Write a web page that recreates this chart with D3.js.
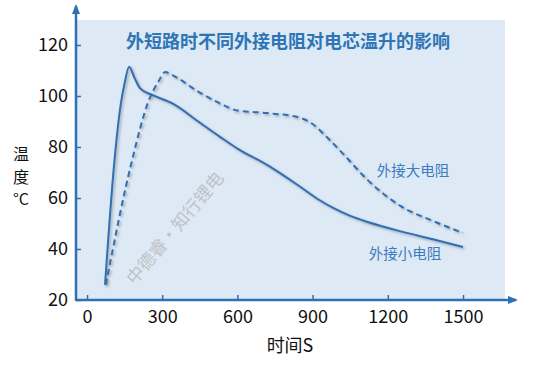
<!DOCTYPE html>
<html>
<head>
<meta charset="utf-8">
<script src="https://cdn.jsdelivr.net/npm/d3@7.9.0/dist/d3.min.js"></script>
<style>
  body { margin: 0; background: #fff; }
  svg { display: block; font-family: "Noto Sans CJK SC", "Noto Sans", sans-serif; }
</style>
</head>
<body>
<svg id="chart"></svg>
<script>
// time (s) / temperature (°C)
const smallTime = [72, 108, 135, 150, 168, 190, 212, 260, 344, 452, 532, 600, 720, 852, 920, 984, 1050, 1120, 1252, 1380, 1500];
const smallTemp = [26, 73, 97, 105, 111.5, 107, 103, 100.4, 96.9, 89.4, 83.9, 79.4, 72.9, 64.3, 59.6, 56, 53, 50.6, 46.9, 43.8, 40.8];
const bigTime = [75, 180, 244, 284, 312, 340, 452, 532, 600, 720, 852, 900, 950, 1020, 1120, 1252, 1380, 1500];
const bigTemp = [26, 74.9, 97.6, 105.5, 109.4, 108.2, 101.2, 97, 94.3, 93.3, 91.4, 89, 84.5, 77.5, 67, 56.8, 51, 46.3];
const xTicks = [0, 300, 600, 900, 1200, 1500];
const yTicks = [20, 40, 60, 80, 100, 120];

const W = 554, H = 368;
const blue = "#2f6fb6";

const svg = d3.select("#chart").attr("width", W).attr("height", H);

const x = d3.scaleLinear().domain([0, 1500]).range([87, 463]);
const y = d3.scaleLinear().domain([20, 120]).range([300, 45]);

const defs = svg.append("defs");
const f = defs.append("filter").attr("id", "shadow")
  .attr("x", "-10%").attr("y", "-10%").attr("width", "130%").attr("height", "130%");
f.append("feDropShadow").attr("dx", 1.5).attr("dy", 1.5).attr("stdDeviation", 1)
  .attr("flood-color", "#666").attr("flood-opacity", 0.5);

defs.append("marker").attr("id", "arrow")
  .attr("viewBox", "0 0 10 10").attr("refX", 8).attr("refY", 5)
  .attr("markerWidth", 4).attr("markerHeight", 4).attr("orient", "auto")
  .append("path").attr("d", "M0,1 L10,5 L0,9 Z").attr("fill", blue);

// plot background
svg.append("rect")
  .attr("x", 76).attr("y", 20)
  .attr("width", 429).attr("height", 280)
  .attr("fill", "#dde9f5");

// watermark
svg.append("text")
  .attr("transform", "translate(176,229) rotate(-50)")
  .attr("text-anchor", "middle")
  .attr("dominant-baseline", "middle")
  .attr("font-size", 17.5)
  .attr("fill", "#bfc3c8")
  .text("中德睿•知行锂电");

// axes
const xAxis = svg.append("g")
  .attr("transform", `translate(0,${y(20)})`)
  .call(d3.axisBottom(x).tickValues(xTicks).tickFormat(d3.format("d")).tickSize(-5).tickPadding(10));
const yAxis = svg.append("g")
  .attr("transform", "translate(76,0)")
  .call(d3.axisLeft(y).tickValues(yTicks).tickFormat(d3.format("d")).tickSize(-5).tickPadding(8));

[xAxis, yAxis].forEach(g => {
  g.select(".domain").remove();
  g.selectAll(".tick line").attr("stroke", blue).attr("stroke-width", 1.5);
  g.selectAll(".tick text").attr("font-size", 18).attr("fill", "#111")
    .attr("font-family", "'Noto Sans CJK SC', sans-serif");
});

svg.append("line")
  .attr("x1", 76).attr("y1", 300).attr("x2", 516).attr("y2", 300)
  .attr("stroke", blue).attr("stroke-width", 2.5)
  .attr("marker-end", "url(#arrow)");
svg.append("line")
  .attr("x1", 76).attr("y1", 301).attr("x2", 76).attr("y2", 6)
  .attr("stroke", blue).attr("stroke-width", 2.5)
  .attr("marker-end", "url(#arrow)");

// axis titles
svg.append("text").attr("x", 290).attr("y", 352)
  .attr("text-anchor", "middle").attr("font-size", 18).attr("fill", "#111")
  .text("时间S");
[["温", 160], ["度", 183], ["°C", 205]].forEach(([t, yy]) => {
  svg.append("text").attr("x", 21).attr("y", yy)
    .attr("text-anchor", "middle").attr("font-size", 16).attr("fill", "#111")
    .text(t);
});

// title
svg.append("text").attr("x", 288).attr("y", 48)
  .attr("text-anchor", "middle").attr("font-size", 18).attr("font-weight", "bold")
  .attr("fill", "#2e75b6")
  .text("外短路时不同外接电阻对电芯温升的影响");

// series
const line = d3.line()
  .x(d => x(d[0]))
  .y(d => y(d[1]))
  .curve(d3.curveMonotoneX);

const smallData = smallTime.map((t, i) => [t, smallTemp[i]]);
const bigData = bigTime.map((t, i) => [t, bigTemp[i]]);

svg.append("path")
  .datum(bigData)
  .attr("fill", "none")
  .attr("stroke", blue)
  .attr("stroke-width", 2)
  .attr("stroke-dasharray", "6,4")
  .attr("filter", "url(#shadow)")
  .attr("d", line);

svg.append("path")
  .datum(smallData)
  .attr("fill", "none")
  .attr("stroke", blue)
  .attr("stroke-width", 2)
  .attr("filter", "url(#shadow)")
  .attr("d", line);

// series labels
svg.append("text").attr("x", 413).attr("y", 176)
  .attr("text-anchor", "middle").attr("font-size", 14.5).attr("fill", "#3c7cc0")
  .text("外接大电阻");
svg.append("text").attr("x", 405).attr("y", 259)
  .attr("text-anchor", "middle").attr("font-size", 14.5).attr("fill", "#3c7cc0")
  .text("外接小电阻");
</script>
</body>
</html>
